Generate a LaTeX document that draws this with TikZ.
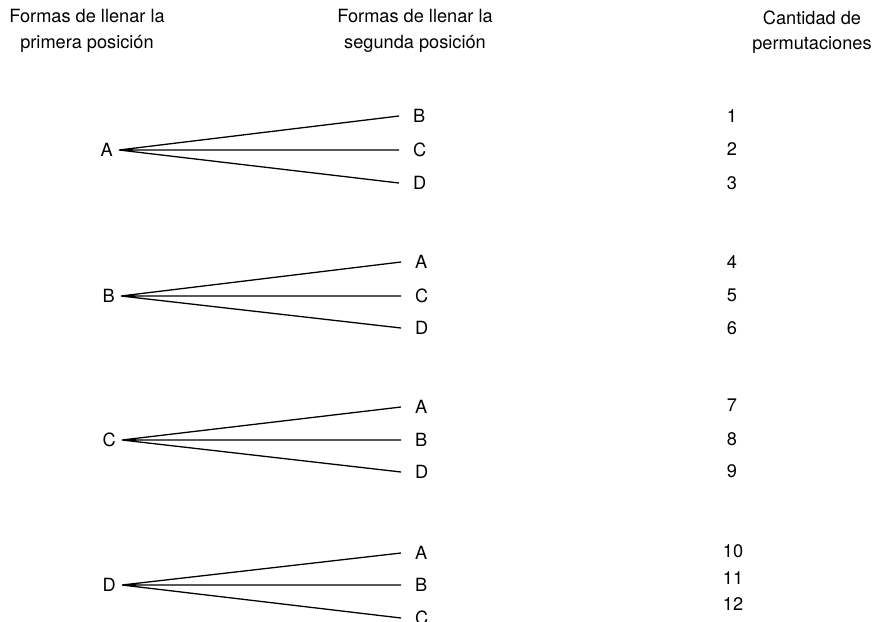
\documentclass[tikz,border=0pt]{standalone}
\usepackage{fontspec}
\setmainfont{TeX Gyre Heros}
\begin{document}
\begin{tikzpicture}[x=1pt,y=-1pt,
  txt/.style={inner sep=0pt, font=\fontsize{18.2}{21}\selectfont},
  head/.style={txt, align=center, font=\fontsize{18.2}{25.5}\selectfont},
  root/.style={txt, anchor=east, inner xsep=6pt},
  leaf/.style={txt, anchor=west, inner xsep=14pt},
  num/.style={txt},
  branch/.style={line width=1.3pt}]
\clip (0,0) rectangle (875,621);
% headers
\node[head] (h1) at (87,31) {Formas de llenar la\\primera posición};
\node[head] (h2) at (415,31) {Formas de llenar la\\segunda posición};
\node[head] (h3) at (812,32) {Cantidad de\\permutaciones};
% group A
\node[root] (rA) at (119,150) {A};
\node[leaf] (aB) at (399,116) {B};
\node[leaf] (aC) at (399,150) {C};
\node[leaf] (aD) at (399,183) {D};
\draw[branch] (rA.east) -- (aB.west) (rA.east) -- (aC.west) (rA.east) -- (aD.west);
\node[num] (n1) at (732,116) {1};
\node[num] (n2) at (732,149) {2};
\node[num] (n3) at (732,183) {3};
% group B
\node[root] (rB) at (121,296) {B};
\node[leaf] (bA) at (401,262) {A};
\node[leaf] (bC) at (401,296) {C};
\node[leaf] (bD) at (401,328) {D};
\draw[branch] (rB.east) -- (bA.west) (rB.east) -- (bC.west) (rB.east) -- (bD.west);
\node[num] (n4) at (732,262) {4};
\node[num] (n5) at (732,295) {5};
\node[num] (n6) at (732,328) {6};
% group C
\node[root] (rC) at (122,440) {C};
\node[leaf] (cA) at (401,407) {A};
\node[leaf] (cB) at (401,440) {B};
\node[leaf] (cD) at (401,472) {D};
\draw[branch] (rC.east) -- (cA.west) (rC.east) -- (cB.west) (rC.east) -- (cD.west);
\node[num] (n7) at (732,405) {7};
\node[num] (n8) at (732,439) {8};
\node[num] (n9) at (732,471) {9};
% group D
\node[root] (rD) at (122,585) {D};
\node[leaf] (dA) at (401,553) {A};
\node[leaf] (dB) at (401,585) {B};
\node[leaf] (dC) at (401,618) {C};
\draw[branch] (rD.east) -- (dA.west) (rD.east) -- (dB.west) (rD.east) -- (dC.west);
\node[num] (n10) at (733,551) {10};
\node[num] (n11) at (733,578) {11};
\node[num] (n12) at (733,604) {12};
\end{tikzpicture}
\end{document}
